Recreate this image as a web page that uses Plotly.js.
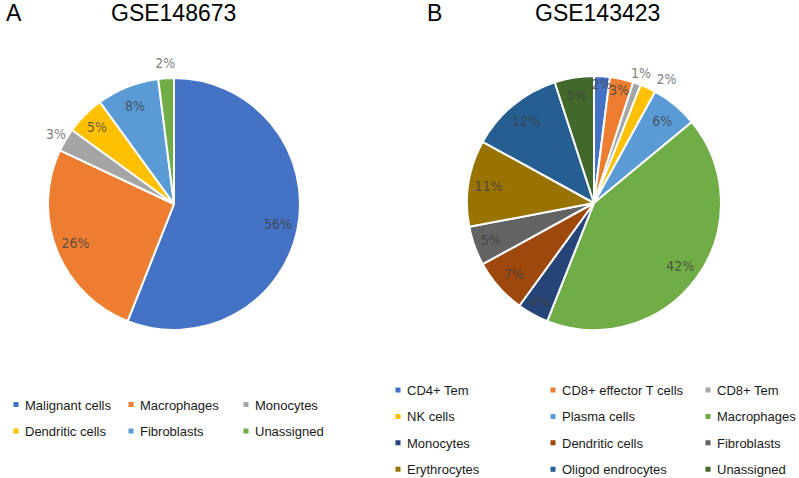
<!DOCTYPE html>
<html>
<head>
<meta charset="utf-8">
<script src="https://cdn.plot.ly/plotly-3.0.1.min.js"></script>
<style>
  html, body { margin: 0; padding: 0; overflow: hidden; background: #ffffff; }
  #pieA, #pieB { position: absolute; top: 0; height: 478px; }
  #pieA { left: -15px; width: 415px; }
  #pieB { left: 320px; width: 520px; }
</style>
</head>
<body>
<div id="pieA"></div>
<div id="pieB"></div>
<script>
"use strict";

// GSE148673
const labelsA = ['Malignant cells', 'Macrophages', 'Monocytes', 'Dendritic cells', 'Fibroblasts', 'Unassigned'];
const valuesA = [56, 26, 3, 5, 8, 2];
const colorsA = ['#4472C4', '#ED7D31', '#A5A5A5', '#FFC000', '#5B9BD5', '#70AD47'];
const textPosA = ['inside', 'inside', 'outside', 'inside', 'inside', 'outside'];

// GSE143423
const labelsB = ['CD4+ Tem', 'CD8+ effector T cells', 'CD8+ Tem', 'NK cells', 'Plasma cells', 'Macrophages',
                 'Monocytes', 'Dendritic cells', 'Fibroblasts', 'Erythrocytes', 'Oligod endrocytes', 'Unassigned'];
const valuesB = [2, 3, 1, 2, 6, 42, 4, 7, 5, 11, 12, 5];
const colorsB = ['#4472C4', '#ED7D31', '#A5A5A5', '#FFC000', '#5B9BD5', '#70AD47',
                 '#264478', '#9E480E', '#636363', '#997300', '#255E91', '#43682B'];
const textPosB = ['inside', 'inside', 'outside', 'outside', 'inside', 'inside',
                  'inside', 'inside', 'inside', 'inside', 'inside', 'inside'];

const FONT = 'Liberation Sans, Arial, sans-serif';
const PCT_FONT = 'DejaVu Sans Condensed, Liberation Sans, sans-serif';
const PCT_SIZE = 14;
const H = 478;

// pie box in paper fractions from a centre and radius in pixels of the div
function domainFor(cx, cy, r, w) {
    return {x: [(cx - r) / w, (cx + r) / w], y: [1 - (cy + r) / H, 1 - (cy - r) / H]};
}

// transparent ring that only carries % labels, so they sit near its rim
function labelRing(labels, values, textPos, domain, hole, color, rotation) {
    return {
        type: 'pie', labels: labels, values: values,
        sort: false, direction: 'clockwise', rotation: rotation || 0, domain: domain,
        hole: hole, showlegend: false,
        marker: {colors: values.map(() => 'rgba(0,0,0,0)'), line: {width: 0}},
        textinfo: 'percent', textposition: textPos, insidetextorientation: 'horizontal',
        insidetextfont: {family: PCT_FONT, size: PCT_SIZE, color: color},
        hoverinfo: 'skip',
    };
}

function pieTraces(labels, values, colors, textPos, g) {
    // legend rows are spaced wider than the text, so the legend font is big and the label text small
    let legendLabels = labels.map(l => `<span style="font-size:13px">${l}</span>`);
    let innerPos = textPos.map(p => p === 'inside' ? 'inside' : 'none');
    // an outside label right after another outside one goes on a second ring, nudged clockwise
    let nudged = textPos.map((p, i) => p === 'outside' && i > 0 && textPos[i - 1] === 'outside');
    let outerPos = textPos.map((p, i) => p === 'outside' && !nudged[i] ? 'inside' : 'none');
    let nudgedPos = nudged.map(n => n ? 'inside' : 'none');

    return [
        {
            type: 'pie', labels: legendLabels, values: values,
            sort: false, direction: 'clockwise', rotation: 0, domain: domainFor(g.cx, g.cy, g.r, g.w),
            marker: {colors: colors, line: {color: '#ffffff', width: 2}},
            textinfo: 'none', hoverinfo: 'skip',
        },
        labelRing(legendLabels, values, innerPos, domainFor(g.cx, g.cy, g.r, g.w), 0.68, 'rgba(64,64,64,0.8)'),
        labelRing(legendLabels, values, outerPos, domainFor(g.cx, g.cy, g.r + g.gap1, g.w), 0.8, '#7f7f7f'),
        labelRing(legendLabels, values, nudgedPos, domainFor(g.cx, g.cy, g.r + g.gap2, g.w), 0.8, '#7f7f7f', 5),
    ];
}

function pieLayout(legend, annotations) {
    return {
        margin: {l: 0, r: 0, t: 0, b: 0, autoexpand: false},
        paper_bgcolor: 'rgba(0,0,0,0)',
        plot_bgcolor: 'rgba(0,0,0,0)',
        showlegend: true,
        uniformtext: {mode: 'show', minsize: PCT_SIZE},
        legend: Object.assign({
            orientation: 'h', xanchor: 'left', yanchor: 'top',
            font: {family: FONT, size: 18, color: '#1a1a1a'},
            entrywidthmode: 'pixels', traceorder: 'normal', borderwidth: 0,
        }, legend),
        annotations: annotations.map(a => ({
            xref: 'paper', yref: 'paper', x: a.x, y: 1 - 13 / H,
            xanchor: a.anchor, yanchor: 'middle', showarrow: false,
            text: a.text, font: {family: FONT, size: 23, color: '#000000'},
        })),
    };
}

// small square swatches placed close to the text
function shrinkSwatches(gd) {
    gd.querySelectorAll('path.legendpie').forEach(p => {
        p.setAttribute('transform', 'translate(31,2) scale(0.42)');
        p.style.strokeWidth = '0';
    });
}

const config = {staticPlot: true, displayModeBar: false};

// div A starts 15px left of the page, div B at 320px
let layoutA = pieLayout(
    {x: 0, y: 1 - 384.3 / H, entrywidth: 70},
    [{text: 'A', x: 19 / 415, anchor: 'left'}, {text: 'GSE148673', x: 188 / 415, anchor: 'center'}]
);
let tracesA = pieTraces(labelsA, valuesA, colorsA, textPosA, {cx: 189, cy: 204, r: 126, w: 415, gap1: 24, gap2: 24});
Plotly.newPlot('pieA', tracesA, layoutA, config).then(shrinkSwatches);

let layoutB = pieLayout(
    {x: 47 / 520, y: 1 - 369.8 / H, entrywidth: 110},
    [{text: 'B', x: 105 / 520, anchor: 'left'}, {text: 'GSE143423', x: 277 / 520, anchor: 'center'}]
);
let tracesB = pieTraces(labelsB, valuesB, colorsB, textPosB, {cx: 274, cy: 203, r: 127, w: 520, gap1: 16, gap2: 26});
Plotly.newPlot('pieB', tracesB, layoutB, config).then(shrinkSwatches);
</script>
</body>
</html>
